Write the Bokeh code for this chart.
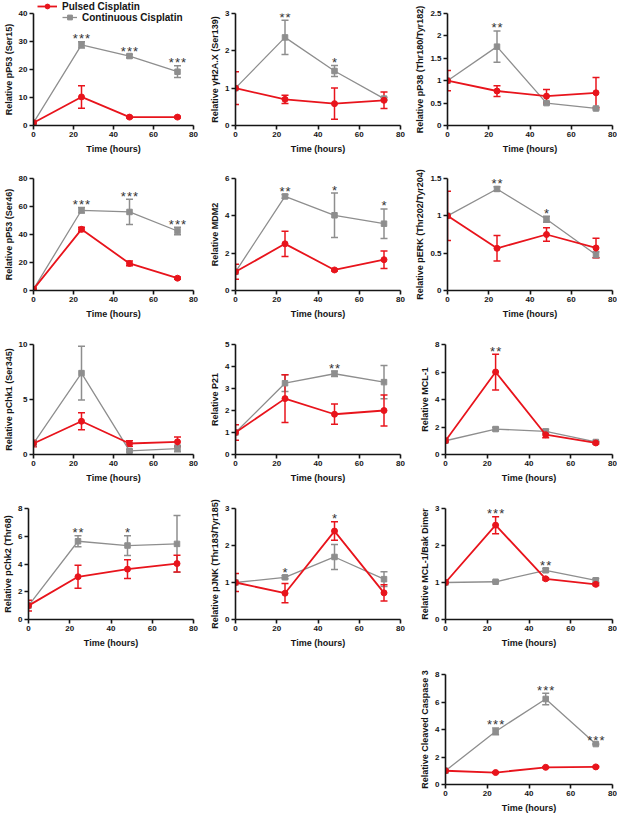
from bokeh.plotting import figure
from bokeh.models import (ColumnDataSource, Range1d, FixedTicker, Whisker, TeeHead,
                          Legend, LegendItem, Spacer)
from bokeh.layouts import row, column
from bokeh.embed import file_html
from bokeh.resources import INLINE
from bokeh.core.properties import value

# ---------------- data ----------------
times = [0, 24, 48, 72]
x_ticks = [0, 20, 40, 60, 80]
series_names = ["Pulsed Cisplatin", "Continuous Cisplatin"]

# 1 pP53 (Ser15)
p53s15_pul = [1.0, 10.2, 3.0, 3.0];      p53s15_pul_err = [0.4, 4.0, 0.3, 0.3]
p53s15_con = [1.0, 28.8, 24.8, 19.2];    p53s15_con_err = [0.3, 1.1, 0.6, 2.1]
p53s15_stars = ["", "***", "***", "***"]
# 2 gH2A.X (Ser139)
h2ax_pul = [1.0, 0.70, 0.585, 0.675];    h2ax_pul_err = [0.44, 0.11, 0.42, 0.22]
h2ax_con = [1.0, 2.36, 1.46, 0.72];      h2ax_con_err = [0.0, 0.46, 0.15, 0.03]
h2ax_stars = ["", "**", "*", ""]
# 3 pP38
p38_pul = [1.0, 0.77, 0.655, 0.73];      p38_pul_err = [0.225, 0.12, 0.15, 0.34]
p38_con = [1.0, 1.76, 0.50, 0.38];       p38_con_err = [0.0, 0.35, 0.03, 0.03]
p38_stars = ["", "**", "", ""]
# 4 pP53 (Ser46)
p53s46_pul = [1.0, 43.7, 19.3, 8.8];     p53s46_pul_err = [0.5, 1.5, 1.7, 0.8]
p53s46_con = [1.0, 57.3, 56.1, 42.5];    p53s46_con_err = [0.3, 2.0, 9.0, 2.7]
p53s46_stars = ["", "***", "***", "***"]
# 5 MDM2
mdm2_pul = [1.0, 2.5, 1.1, 1.65];        mdm2_pul_err = [0.4, 0.68, 0.05, 0.47]
mdm2_con = [1.0, 5.04, 4.03, 3.58];      mdm2_con_err = [0.0, 0.1, 1.19, 0.79]
mdm2_stars = ["", "**", "*", "*"]
# 6 pERK
perk_pul = [1.0, 0.565, 0.75, 0.57];     perk_pul_err = [0.33, 0.17, 0.09, 0.13]
perk_con = [1.0, 1.36, 0.955, 0.48];     perk_con_err = [0.0, 0.03, 0.04, 0.04]
perk_stars = ["", "**", "*", ""]
# 7 pChk1
chk1_pul = [1.0, 3.02, 1.0, 1.15];       chk1_pul_err = [0.3, 0.77, 0.25, 0.45]
chk1_con = [1.0, 7.4, 0.33, 0.54];       chk1_con_err = [0.0, 2.45, 0.1, 0.3]
chk1_stars = ["", "*", "", ""]
# 8 P21
p21_pul = [1.0, 2.54, 1.83, 2.0];        p21_pul_err = [0.35, 1.08, 0.46, 0.7]
p21_con = [1.0, 3.24, 3.67, 3.29];       p21_con_err = [0.0, 0.38, 0.12, 0.76]
p21_stars = ["", "", "**", ""]
# 9 MCL-1
mcl1_pul = [1.0, 6.0, 1.44, 0.84];       mcl1_pul_err = [0.1, 1.3, 0.22, 0.08]
mcl1_con = [1.0, 1.85, 1.68, 0.91];      mcl1_con_err = [0.0, 0.12, 0.15, 0.05]
mcl1_stars = ["", "**", "", ""]
# 10 pChk2
chk2_pul = [1.0, 3.08, 3.63, 4.03];      chk2_pul_err = [0.39, 0.83, 0.68, 0.6]
chk2_con = [1.0, 5.64, 5.33, 5.45];      chk2_con_err = [0.0, 0.4, 0.71, 2.04]
chk2_stars = ["", "**", "*", ""]
# 11 pJNK
jnk_pul = [1.0, 0.71, 2.39, 0.72];       jnk_pul_err = [0.24, 0.26, 0.25, 0.22]
jnk_con = [1.0, 1.14, 1.69, 1.09];       jnk_con_err = [0.0, 0.04, 0.34, 0.2]
jnk_stars = ["", "*", "*", ""]
# 12 MCL-1/Bak dimer
bak_pul = [1.0, 2.55, 1.1, 0.95];        bak_pul_err = [0.02, 0.23, 0.03, 0.03]
bak_con = [1.0, 1.02, 1.33, 1.06];       bak_con_err = [0.0, 0.02, 0.05, 0.05]
bak_stars = ["", "***", "**", ""]
# 13 Cleaved caspase 3
casp_pul = [1.0, 0.87, 1.25, 1.28];      casp_pul_err = [0.05, 0.05, 0.05, 0.05]
casp_con = [1.0, 3.86, 6.22, 2.94];      casp_con_err = [0.0, 0.25, 0.42, 0.05]
casp_stars = ["", "***", "***", "***"]

y_labels = ["Relative pP53 (Ser15)", "Relative γH2A.X (Ser139)", "Relative pP38 (Thr180/Tyr182)",
            "Relative pP53 (Ser46)", "Relative MDM2", "Relative pERK (Thr202/Tyr204)",
            "Relative pChk1 (Ser345)", "Relative P21", "Relative MCL-1",
            "Relative pChk2 (Thr68)", "Relative pJNK (Thr183/Tyr185)", "Relative MCL-1/Bak Dimer",
            "Relative Cleaved Caspase 3"]
y_ticks = [[0, 10, 20, 30, 40], [0, 1, 2, 3], [0, 0.5, 1.0, 1.5, 2.0, 2.5],
           [0, 20, 40, 60, 80], [0, 2, 4, 6], [0, 0.5, 1.0, 1.5],
           [0, 5, 10], [0, 1, 2, 3, 4, 5], [0, 2, 4, 6, 8],
           [0, 2, 4, 6, 8], [0, 1, 2, 3], [0, 1, 2, 3],
           [0, 2, 4, 6, 8]]
series = [
    (p53s15_pul, p53s15_pul_err, p53s15_con, p53s15_con_err, p53s15_stars),
    (h2ax_pul, h2ax_pul_err, h2ax_con, h2ax_con_err, h2ax_stars),
    (p38_pul, p38_pul_err, p38_con, p38_con_err, p38_stars),
    (p53s46_pul, p53s46_pul_err, p53s46_con, p53s46_con_err, p53s46_stars),
    (mdm2_pul, mdm2_pul_err, mdm2_con, mdm2_con_err, mdm2_stars),
    (perk_pul, perk_pul_err, perk_con, perk_con_err, perk_stars),
    (chk1_pul, chk1_pul_err, chk1_con, chk1_con_err, chk1_stars),
    (p21_pul, p21_pul_err, p21_con, p21_con_err, p21_stars),
    (mcl1_pul, mcl1_pul_err, mcl1_con, mcl1_con_err, mcl1_stars),
    (chk2_pul, chk2_pul_err, chk2_con, chk2_con_err, chk2_stars),
    (jnk_pul, jnk_pul_err, jnk_con, jnk_con_err, jnk_stars),
    (bak_pul, bak_pul_err, bak_con, bak_con_err, bak_stars),
    (casp_pul, casp_pul_err, casp_con, casp_con_err, casp_stars),
]

RED = "#e8141c"
GRAY = "#8e8e8e"
INK = "#151515"
FONT = "Liberation Sans"

# layout geometry: (width, left, right) per column; (height, top, bottom) per row
cols = [(207, 28, 14), (205, 26, 12), (205, 33, 5)]
rows = [(165, 13, 40), (166, 13, 41), (163, 13, 40), (167, 14, 42), (154, 13, 30)]
LEG_H = 24


def whisker(p, vals, errs, color):
    xs = [t for t, e in zip(times, errs) if e > 0]
    up = [v + e for v, e in zip(vals, errs) if e > 0]
    lo = [v - e for v, e in zip(vals, errs) if e > 0]
    src = ColumnDataSource(dict(x=xs, upper=up, lower=lo))
    w = Whisker(base="x", upper="upper", lower="lower", source=src, dimension="height",
                line_color=color, line_width=1.5,
                upper_head=TeeHead(size=7, line_color=color, line_width=1.5),
                lower_head=TeeHead(size=7, line_color=color, line_width=1.5))
    p.add_layout(w)


def panel(i, ci, ri):
    pul, pul_e, con, con_e, stars = series[i]
    w, l, r = cols[ci]
    h, t, b = rows[ri]
    ticks = y_ticks[i]
    p = figure(width=w, height=h, x_range=Range1d(0, 80), y_range=Range1d(0, ticks[-1]),
               output_backend="svg", toolbar_location=None,
               min_border_left=l, min_border_right=r, min_border_top=t, min_border_bottom=b)
    p.outline_line_color = None
    p.grid.visible = False
    p.xaxis.ticker = FixedTicker(ticks=x_ticks)
    p.yaxis.ticker = FixedTicker(ticks=ticks)
    p.xaxis.axis_label = "Time (hours)"
    p.yaxis.axis_label = y_labels[i]
    for ax in (p.xaxis[0], p.yaxis[0]):
        ax.axis_line_width = 1.6
        ax.axis_line_color = INK
        ax.major_tick_line_width = 1.6
        ax.major_tick_line_color = INK
        ax.major_tick_out = 4
        ax.major_tick_in = 0
        ax.minor_tick_out = 0
        ax.minor_tick_in = 0
        ax.major_label_text_font = FONT
        ax.major_label_text_font_style = "bold"
        ax.major_label_text_font_size = "8px"
        ax.major_label_text_color = INK
        ax.axis_label_text_font = FONT
        ax.axis_label_text_font_style = "bold"
        ax.axis_label_text_color = INK
        ax.axis_label_text_font_size = "9px"
    p.xaxis.major_label_standoff = 2
    p.xaxis.axis_label_standoff = 4
    p.yaxis.major_label_standoff = 2
    p.yaxis.axis_label_standoff = 2

    whisker(p, con, con_e, GRAY)
    p.line(times, con, line_color=GRAY, line_width=1.3)
    p.scatter(times, con, marker="square", size=5.5, fill_color=GRAY, line_color=GRAY)
    whisker(p, pul, pul_e, RED)
    p.line(times, pul, line_color=RED, line_width=1.8)
    p.scatter(times, pul, marker="circle", size=6, fill_color=RED, line_color=RED)

    sx, sy, st = [], [], []
    for tt, a, ae, c, cexp, s in zip(times, pul, pul_e, con, con_e, stars):
        if s:
            sx.append(tt)
            sy.append(max(a + ae, c + cexp))
            st.append("\u200a".join(s))
    p.text(x=sx, y=sy, text=st, text_align="center", text_baseline="alphabetic",
           text_font=value(FONT), text_font_size="13px", text_color="#333333", y_offset=-3)
    return p


def legend_figure():
    # transparent strip laid over the top of the first panel, holding the legend;
    # its ranges keep the panel-1 series out of view so only the legend shows
    lf = figure(width=cols[0][0], height=LEG_H, x_range=Range1d(0, 1), y_range=Range1d(-2, -1),
                output_backend="svg", toolbar_location=None, min_border=0,
                margin=(-rows[0][0], 0, rows[0][0] - LEG_H, 0))
    lf.axis.visible = False
    lf.grid.visible = False
    lf.outline_line_color = None
    lf.background_fill_alpha = 0
    lf.border_fill_alpha = 0
    rl = lf.line(times, p53s15_pul, line_color=RED, line_width=1.8)
    rm = lf.scatter(times, p53s15_pul, marker="circle", size=6, fill_color=RED, line_color=RED)
    gl = lf.line(times, p53s15_con, line_color=GRAY, line_width=1.3)
    gm = lf.scatter(times, p53s15_con, marker="square", size=5.5, fill_color=GRAY, line_color=GRAY)
    leg1 = Legend(items=[LegendItem(label=series_names[0], renderers=[rl, rm])],
                  location=(37, 12), glyph_width=20)
    leg2 = Legend(items=[LegendItem(label=series_names[1], renderers=[gl, gm])],
                  location=(62, 1), glyph_width=15)
    for lg in (leg1, leg2):
        lg.border_line_color = None
        lg.background_fill_alpha = 0
        lg.padding = 0
        lg.margin = 0
        lg.spacing = 0
        lg.glyph_height = 12
        lg.label_height = 12
        lg.label_standoff = 5
        lg.label_text_font = FONT
        lg.label_text_font_style = "bold"
        lg.label_text_font_size = "10px"
        lg.label_text_color = INK
        lf.add_layout(lg)
    return lf


figs = []
k = 0
for ri in range(4):
    rr = []
    for ci in range(3):
        rr.append(panel(k, ci, ri))
        k += 1
    figs.append(row(*rr))
    if ri == 0:
        figs.append(legend_figure())
last = panel(12, 2, 4)
figs.append(row(Spacer(width=cols[0][0] + cols[1][0], height=rows[4][0]), last))

layout = column(*figs)

open("out.html", "w").write(file_html(layout, INLINE))
